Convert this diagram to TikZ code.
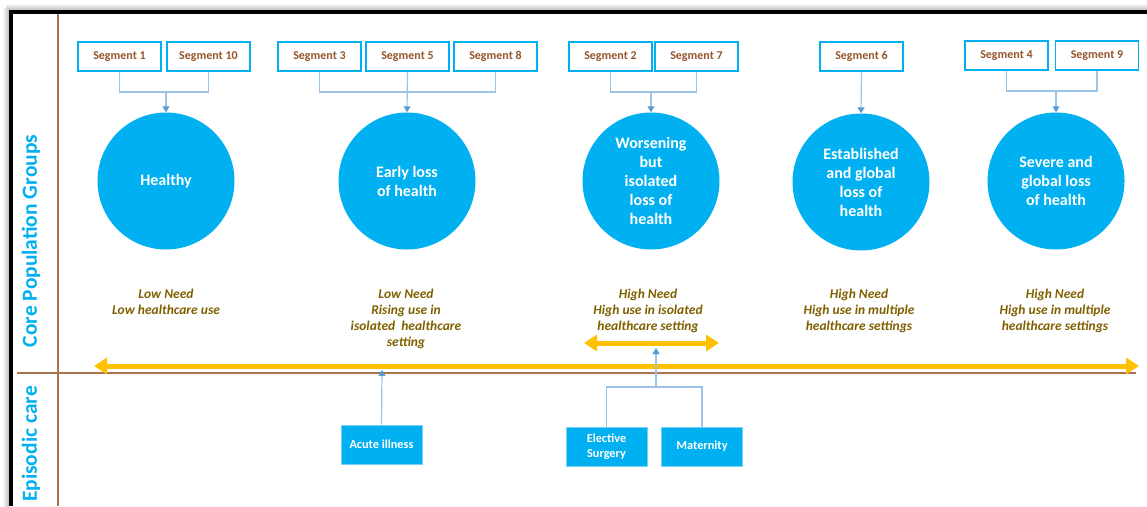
\documentclass[tikz,border=0pt]{standalone}
\usepackage{fontspec}
\setmainfont{Carlito}
\usetikzlibrary{arrows.meta}
\definecolor{cyanb}{HTML}{00B0F0}
\definecolor{segbrown}{RGB}{150,85,45}
\definecolor{descgold}{HTML}{7F6000}
\definecolor{orangey}{HTML}{FFC000}
\definecolor{connblue}{HTML}{9DC3E6}
\definecolor{tipblue}{HTML}{5B9BD5}
\definecolor{axisbrown}{RGB}{170,115,80}
\begin{document}
\begin{tikzpicture}[x=1pt,y=-1pt,
  segbox/.style={draw=cyanb, line width=1.6pt, fill=white, minimum width=83pt, minimum height=29pt, inner sep=0pt, text=segbrown, font=\fontsize{12}{14}\selectfont\bfseries},
  grp/.style={circle, fill=cyanb, minimum size=137pt, inner sep=0pt, text=white, align=center, font=\fontsize{16}{19}\selectfont\bfseries},
  desc/.style={anchor=north, align=center, text=descgold, font=\fontsize{13.5}{16}\selectfont\bfseries\itshape},
  episbox/.style={fill=cyanb, draw=cyanb!55, line width=0.8pt, minimum width=81pt, minimum height=39pt, inner sep=0pt, text=white, align=center, font=\fontsize{12.3}{15}\selectfont\bfseries},
  conn/.style={draw=connblue, line width=1.2pt},
  connarr/.style={draw=connblue, line width=1.2pt, -{Triangle[length=6pt,width=7pt,color=tipblue]}},
  yarrow/.style={draw=orangey, line width=5pt, {Triangle[length=13pt,width=16pt]}-{Triangle[length=13pt,width=16pt]}},
  axisline/.style={draw=axisbrown, line width=1.8pt},
  sidelabel/.style={rotate=90, text=cyanb, font=\fontsize{21.5}{24}\selectfont\bfseries}
]
\useasboundingbox (0,0) rectangle (1147,506);
% frame with shadow
\shade[top color=white, bottom color=black!25] (6,3) rectangle (1147,10);
\shade[left color=white, right color=black!25] (2,8) rectangle (9,506);
\draw[black, line width=4pt] (11,12) -- (1147,12);
\draw[black, line width=4.5pt] (11,10) -- (11,506);
% axes
\coordinate (vtop) at (58,14);
\coordinate (vbot) at (58,506);
\coordinate (hl) at (17,373);
\coordinate (hr) at (1136,373);
\draw[axisline] (vtop) -- (vbot);
\draw[axisline] (hl) -- (hr);
% side labels
\node[sidelabel] (core) at (31,241) {Core Population Groups};
\node[sidelabel] (epis) at (31,444) {Episodic care};
% segment boxes
\node[segbox] (s1) at (119.5,56.5) {Segment 1};
\node[segbox] (s10) at (208.5,56.5) {Segment 10};
\node[segbox] (s3) at (319.5,56.5) {Segment 3};
\node[segbox] (s5) at (407.5,56.5) {Segment 5};
\node[segbox] (s8) at (495.5,56.5) {Segment 8};
\node[segbox] (s2) at (610.5,56.5) {Segment 2};
\node[segbox] (s7) at (696.5,56.5) {Segment 7};
\node[segbox] (s6) at (861.5,56.5) {Segment 6};
\node[segbox] (s4) at (1006.5,55.5) {Segment 4};
\node[segbox] (s9) at (1097,55.5) {Segment 9};
% group circles
\node[grp] (g1) at (166,181) {Healthy};
\node[grp] (g2) at (407,181) {Early loss\\of health};
\node[grp] (g3) at (651,181) {Worsening\\but\\isolated\\loss of\\health};
\node[grp] (g4) at (861,182) {Established\\and global\\loss of\\health};
\node[grp] (g5) at (1056,181) {Severe and\\global loss\\of health};
% connectors
\coordinate (j1) at (166,92);
\draw[conn] (s1.south) |- (j1) -| (s10.south);
\draw[connarr] (j1) -- (g1.north);
\coordinate (j2) at (407,92);
\draw[conn] (s3.south) |- (j2) -| (s8.south);
\draw[connarr] (s5.south) -- (g2.north);
\coordinate (j3) at (651,92);
\draw[conn] (s2.south) |- (j3) -| (s7.south);
\draw[connarr] (j3) -- (g3.north);
\draw[connarr] (s6.south) -- (g4.north);
\coordinate (j5) at (1056,91);
\draw[conn] (s4.south) |- (j5) -| (s9.south);
\draw[connarr] (j5) -- (g5.north);
% descriptions
\node[desc] (d1) at (166,285) {Low Need\\Low healthcare use};
\node[desc] (d2) at (406,285) {Low Need\\Rising use in\\isolated\ \ healthcare\\setting};
\node[desc] (d3) at (648,285) {High Need\\High use in isolated\\healthcare setting};
\node[desc] (d4) at (859,285) {High Need\\High use in multiple\\healthcare settings};
\node[desc] (d5) at (1055,285) {High Need\\High use in multiple\\healthcare settings};
% orange arrows
\coordinate (ol) at (94,366);
\coordinate (or) at (1139,366);
\draw[yarrow] (ol) -- (or);
\coordinate (sl) at (584,343);
\coordinate (sr) at (719,343);
\draw[yarrow] (sl) -- (sr);
% episodic care boxes
\node[episbox] (acute) at (381.5,444.5) {Acute illness};
\node[episbox] (elective) at (606.5,446.5) {Elective\\Surgery};
\node[episbox] (maternity) at (702,446.5) {Maternity};
\coordinate (atip) at (382,370);
\draw[connarr] (acute.north) -- (atip);
\coordinate (ej) at (656,387);
\coordinate (etip) at (656,348);
\draw[conn] (elective.north) |- (ej) -| (maternity.north);
\draw[connarr] (ej) -- (etip);
\end{tikzpicture}
\end{document}
